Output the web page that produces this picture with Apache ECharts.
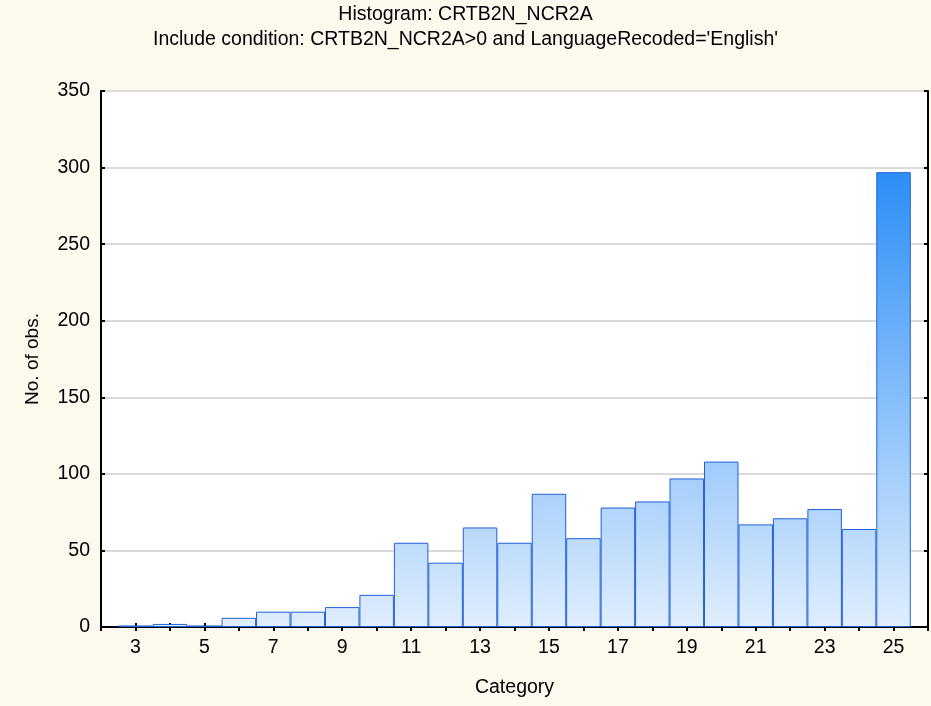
<!DOCTYPE html>
<html>
<head>
<meta charset="utf-8">
<script src="https://cdn.jsdelivr.net/npm/echarts@6/dist/echarts.min.js"></script>
<style>
  html, body { margin: 0; padding: 0; background: #FDF9EF; }
  #chart { width: 931px; height: 706px; }
</style>
</head>
<body>
<div id="chart"></div>
<script>
// histogram bins (category) and counts
var categories = [3, 4, 5, 6, 7, 8, 9, 10, 11, 12, 13, 14, 15, 16, 17, 18, 19, 20, 21, 22, 23, 24, 25];
var counts = [1, 2, 1, 6, 10, 10, 13, 21, 55, 42, 65, 55, 87, 58, 78, 82, 97, 108, 67, 71, 77, 64, 297];
var yTicks = [0, 50, 100, 150, 200, 250, 300, 350];

var GRID = { left: 101, right: 2, top: 91, bottom: 79 };
var plotW = 931 - GRID.left - GRID.right;
var barW = plotW / 24;

var fontFam = '"Liberation Sans", Arial, sans-serif';
var FS = 19.5;

var chart = echarts.init(document.getElementById('chart'));

var barData = categories.map(function (c, i) { return [c, counts[i]]; });

chart.setOption({
    backgroundColor: '#FDF9EF',
    animation: false,
    title: {
        text: 'Histogram: CRTB2N_NCR2A',
        subtext: "Include condition: CRTB2N_NCR2A>0 and LanguageRecoded='English'",
        left: 'center',
        top: 0,
        itemGap: 5,
        textStyle: { fontFamily: fontFam, fontSize: FS, fontWeight: 'normal', color: '#000' },
        subtextStyle: { fontFamily: fontFam, fontSize: FS, color: '#000' }
    },
    grid: {
        left: GRID.left, right: GRID.right, top: GRID.top, bottom: GRID.bottom,
        show: true, backgroundColor: '#fff', borderColor: '#000', borderWidth: 1
    },
    xAxis: [{
        type: 'value', min: 2, max: 26, interval: 1,
        name: 'Category', nameLocation: 'middle', nameGap: 51,
        nameTextStyle: { fontFamily: fontFam, fontSize: FS, color: '#000' },
        axisLine: { show: true, lineStyle: { color: '#000', width: 2 } },
        axisTick: { show: true, inside: true, length: 4, lineStyle: { color: '#000', width: 2 } },
        axisLabel: {
            margin: 11, fontFamily: fontFam, fontSize: FS, color: '#000',
            formatter: function (v) { return (v % 2 === 1 && v > 2 && v < 26) ? String(v) : ''; }
        },
        splitLine: { show: false }
    }, {
        type: 'value', min: 2, max: 26, interval: 1, position: 'top',
        axisLine: { show: true, lineStyle: { color: '#000', width: 2 } },
        axisTick: { show: true, inside: true, length: 4, lineStyle: { color: '#000', width: 2 } },
        axisLabel: { show: false },
        splitLine: { show: false }
    }],
    yAxis: [{
        type: 'value', min: yTicks[0], max: yTicks[yTicks.length - 1], interval: 50,
        name: 'No. of obs.', nameLocation: 'middle', nameGap: 59,
        nameTextStyle: { fontFamily: fontFam, fontSize: 19, color: '#000' },
        axisLine: { show: true, lineStyle: { color: '#000', width: 2 } },
        axisTick: { show: true, inside: true, length: 4, lineStyle: { color: '#000', width: 2 } },
        axisLabel: { margin: 11, fontFamily: fontFam, fontSize: FS, color: '#000' },
        splitLine: { show: true, lineStyle: { color: '#DADADA', width: 2 } }
    }, {
        type: 'value', min: yTicks[0], max: yTicks[yTicks.length - 1], interval: 50, position: 'right',
        axisLine: { show: true, lineStyle: { color: '#000', width: 2 } },
        axisTick: { show: true, inside: true, length: 4, lineStyle: { color: '#000', width: 2 } },
        axisLabel: { show: false },
        splitLine: { show: false }
    }],
    series: [{
        type: 'bar',
        xAxisIndex: 0,
        yAxisIndex: 0,
        data: barData,
        barWidth: barW,
        z: 1,
        itemStyle: {
            color: {
                type: 'linear', x: 0, y: 172, x2: 0, y2: 627, global: true,
                colorStops: [
                    { offset: 0, color: '#2B8EF7' },
                    { offset: 1, color: '#E0EEFD' }
                ]
            },
            borderColor: '#2060D8',
            borderWidth: 1
        }
    }]
});
</script>
</body>
</html>
